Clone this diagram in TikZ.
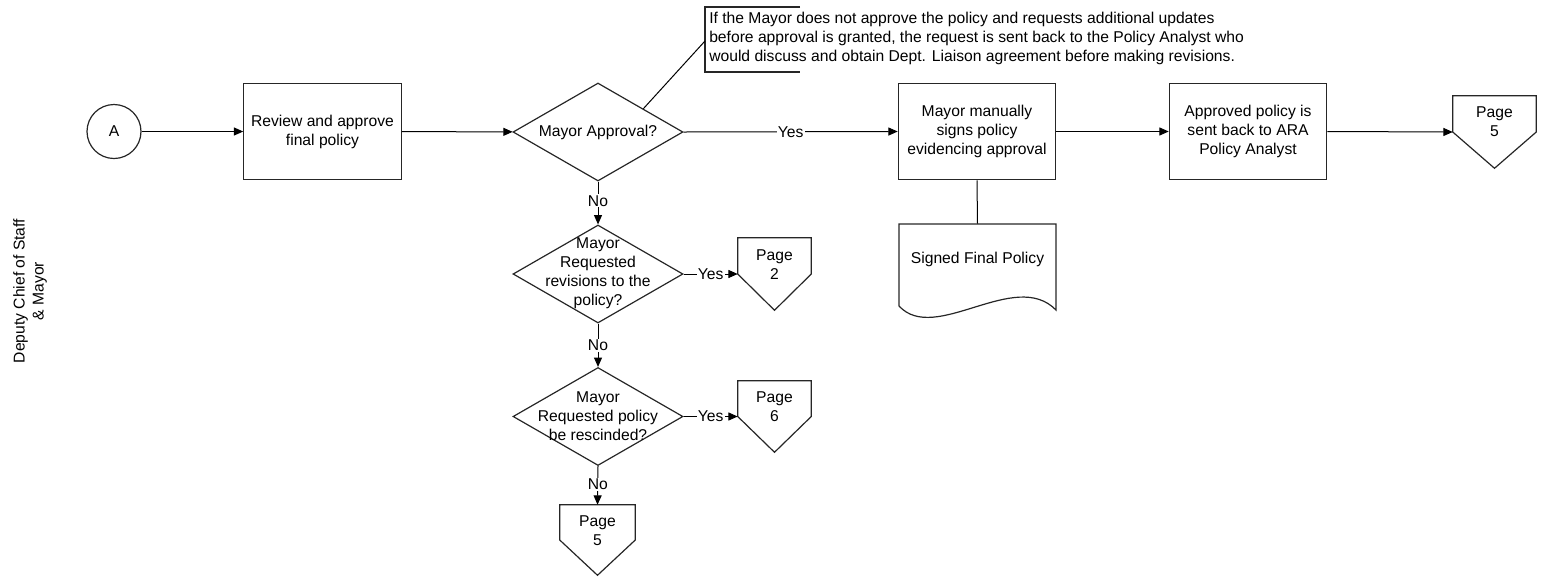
\documentclass[tikz,border=0pt]{standalone}
\usepackage{fontspec}
\setmainfont{Liberation Sans}
\usetikzlibrary{arrows.meta,shapes.geometric,calc}

% outline of an off-page connector drawn around a plain node
\newcommand\offpagepath[1]{%
  \draw[shapeline] (#1.north west) -- (#1.north east) -- (#1.east)
    -- (#1.south) -- (#1.west) -- cycle;}

\begin{document}
\begin{tikzpicture}[x=0.75pt,y=-0.75pt,
  every node/.style={font=\fontsize{11.75}{14.2}\selectfont, text=black},
  shapeline/.style={draw=black!85, line width=0.9pt},
  procbox/.style={shapeline, rectangle, align=center, inner sep=0pt,
    minimum width=118pt, minimum height=72.5pt},
  decision/.style={shapeline, diamond, inner sep=0pt,
    minimum width=127.5pt, minimum height=73.5pt},
  offpage/.style={rectangle, draw=none, inner sep=0pt},
  flow/.style={draw=black, line width=0.75pt,
    -{Triangle[length=7pt,width=6pt]}},
  plain/.style={draw=black, line width=0.75pt},
  answer/.style={fill=white, inner sep=0.8pt}]

\useasboundingbox (0,0) rectangle (1564,576);

% swimlane title
\node[rotate=90, align=center] (lane) at (30,291) {Deputy Chief of Staff\\\& Mayor};

% main row
\node[shapeline, circle, minimum size=40.5pt, inner sep=0pt] (start) at (114,131.5) {A};
\node[procbox] (review) at (322.5,131.5) {Review and approve\\final policy};
\node[decision] (d1) at (598,132) {};
\node (d1t) at (598,132) {Mayor Approval?};
\node[procbox] (sign) at (977,131.5) {Mayor manually\\signs policy\\evidencing approval};
\node[procbox] (sendback) at (1248,131.5) {Approved policy is\\sent back to ARA\\Policy Analyst};
\node[offpage, minimum width=62.25pt, minimum height=54pt] (pg5a) at (1494.5,132) {};
\offpagepath{pg5a}
\node[align=center] (pg5at) at ($(pg5a.north)+(0,26)$) {Page\\5};

% signed document
\node[rectangle, draw=none, minimum width=117.75pt, minimum height=63pt, inner sep=0pt] (doc) at (977.5,266) {};
\draw[shapeline] (899,306) -- (899,224) -- (1056,224) -- (1056,310)
  .. controls (1015,268) and (935,345) .. (899,306);
\node (doct) at (977.5,259) {Signed Final Policy};

% note on the approval decision
\node[anchor=west, align=left, inner sep=0pt] (note) at (709,38.5)
  {If the Mayor does not approve the policy and requests additional updates\\
   before approval is granted, the request is sent back to the Policy Analyst who\\
   would discuss and obtain Dept. Liaison agreement before making revisions.};
\draw[shapeline] (800,7) -- (705,7) -- (705,72) -- (800,72);
\coordinate (notetab) at (705,41);

% lower decisions
\node[decision] (d2) at (598,274) {};
\node[align=center] (d2t) at (598,273.5) {Mayor\\Requested\\revisions to the\\policy?};
\node[decision] (d3) at (598,416.5) {};
\node[align=center] (d3t) at (598,416) {Mayor\\Requested policy\\be rescinded?};

\node[offpage, minimum width=54.75pt, minimum height=54pt] (pg2) at (774.5,274) {};
\offpagepath{pg2}
\node[align=center] (pg2t) at ($(pg2.north)+(0,26.5)$) {Page\\2};

\node[offpage, minimum width=54.75pt, minimum height=53.25pt] (pg6) at (774.5,416.5) {};
\offpagepath{pg6}
\node[align=center] (pg6t) at ($(pg6.north)+(0,25.5)$) {Page\\6};

\node[offpage, minimum width=56.25pt, minimum height=52.5pt] (pg5b) at (597.5,540) {};
\offpagepath{pg5b}
\node[align=center] (pg5bt) at ($(pg5b.north)+(0,25.5)$) {Page\\5};

% connectors
\draw[flow] (start) -- (review);
\draw[flow] (review) -- (d1);
\draw[flow] (d1.east) -- node[answer, pos=0.5] {Yes} (sign.west);
\draw[flow] (sign) -- (sendback);
\draw[flow] (sendback.east) -- (pg5a.west);
\draw[plain] (sign.south) -- (doc.north);
\draw[plain] ($(d1.north)!0.53!(d1.east)$) -- (notetab);
\draw[flow] (d1.south) -- node[answer, pos=0.45] {No} (d2.north);
\draw[flow] (d2.east) -- node[answer, pos=0.5] {Yes} (pg2.west);
\draw[flow] (d2.south) -- node[answer, pos=0.5] {No} (d3.north);
\draw[flow] (d3.east) -- node[answer, pos=0.5] {Yes} (pg6.west);
\draw[flow] (d3.south) -- node[answer, pos=0.48] {No} (pg5b.north);
\end{tikzpicture}
\end{document}
